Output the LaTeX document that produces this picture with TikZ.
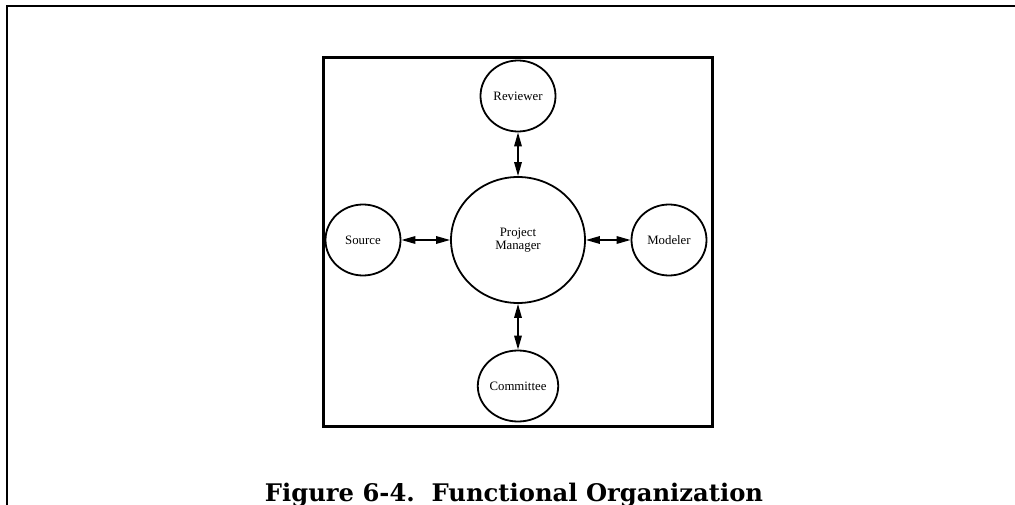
\documentclass[tikz,border=0pt]{standalone}
\usepackage{fontspec}
\setmainfont{Liberation Serif}
\newfontfamily\capfont{DejaVu Serif}
\usetikzlibrary{shapes.geometric,arrows.meta}
\tikzset{
  role/.style={draw, ellipse, line width=1.8pt, inner sep=0pt, minimum width=75pt, minimum height=71pt,
    font=\fontsize{12.8}{13}\selectfont, align=center},
  link/.style={line width=1.7pt, {Triangle[length=14pt,width=7.5pt]}-{Triangle[length=14pt,width=7.5pt]}},
}
\begin{document}
\begin{tikzpicture}[x=1pt,y=-1pt]
\useasboundingbox (0,0) rectangle (1015,505);
% outer frame
\draw[line width=2pt] (7,520) -- (7,6) -- (1020,6);
% inner box
\draw[line width=3pt] (323,58) rectangle (712,426);
\node[role, minimum width=134pt, minimum height=126pt] (pm) at (518,240) {Project\\Manager};
\node[role] (rev) at (518,96) {Reviewer};
\node[role] (src) at (363,240) {Source};
\node[role] (mod) at (669,240) {Modeler};
\node[role] (com) at (518,386) {Committee};
\draw[link] (rev) -- (pm);
\draw[link] (src) -- (pm);
\draw[link] (mod) -- (pm);
\draw[link] (com) -- (pm);
\node[anchor=base, inner sep=0pt] (cap) at (514,501.5) {\resizebox{498pt}{!}{\capfont\bfseries Figure 6-4.\ \ Functional Organization}};
\end{tikzpicture}
\end{document}
